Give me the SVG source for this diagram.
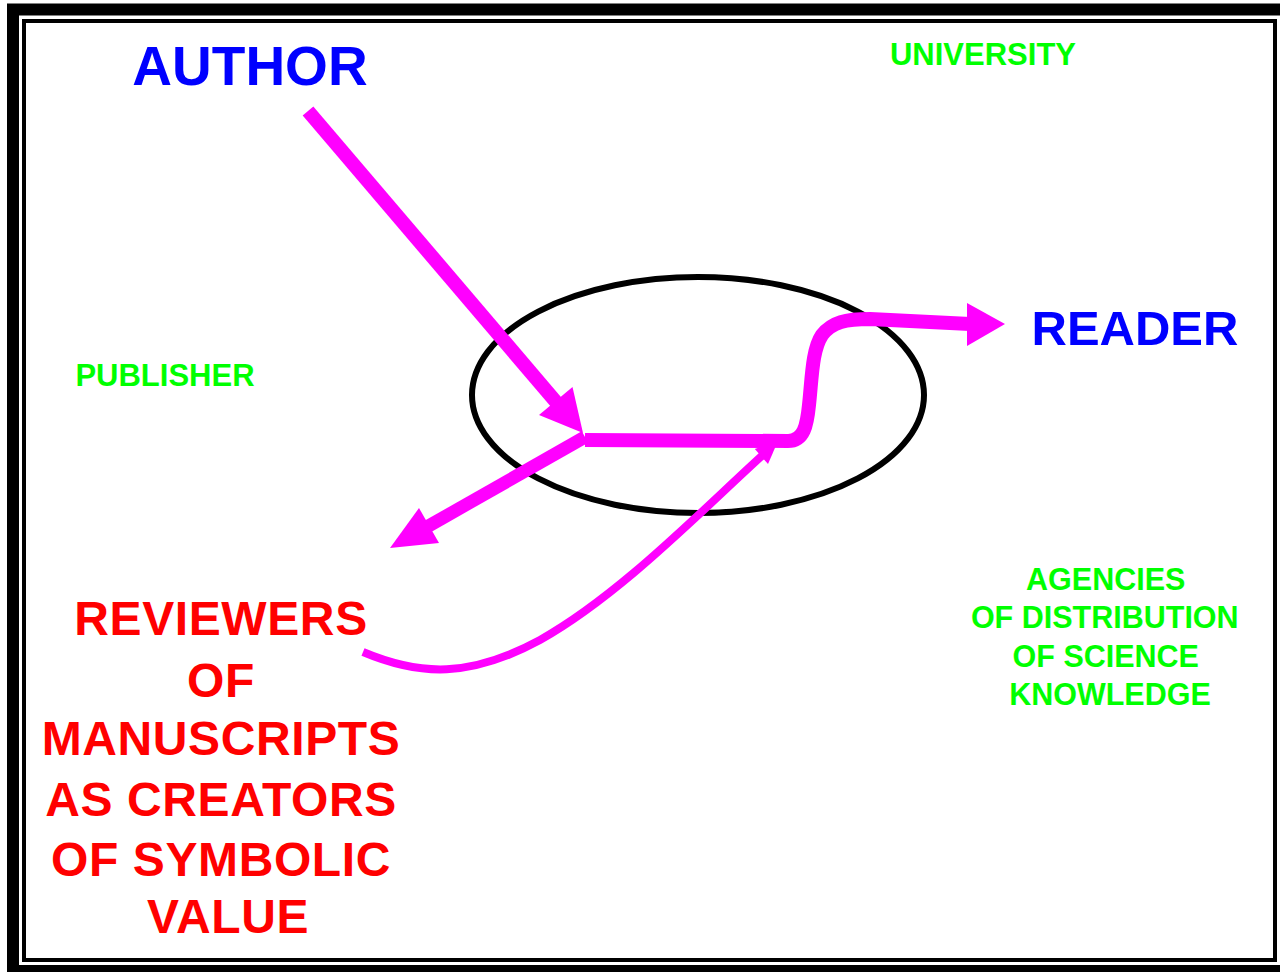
<svg xmlns="http://www.w3.org/2000/svg" width="1280" height="972" viewBox="0 0 1280 972">
<style>
.t{font-family:"Liberation Sans",Arial,sans-serif;font-weight:bold;text-anchor:middle}
.blue{fill:#0000FF}
.green{fill:#00FF00}
.red{fill:#FF0000}
.shaft{fill:none;stroke:#FF00FF;stroke-linecap:butt;stroke-linejoin:round}
.head{fill:#FF00FF}
</style>
<rect x="0" y="0" width="1280" height="972" fill="#FFFFFF"/>
<g id="frame">
<rect x="13" y="9.5" width="1290" height="961.5" fill="none" stroke="#000" stroke-width="12"/>
<rect x="24" y="21" width="1251" height="939" fill="none" stroke="#000" stroke-width="4"/>
</g>
<g id="journal">
<ellipse cx="698" cy="395" rx="226" ry="118" fill="none" stroke="#000" stroke-width="6"/>
</g>
<g id="connectors">
<path class="shaft" stroke-width="14" d="M308,111 L562,409"/>
<polygon class="head" points="583,433 539,415 572.5,387"/>
<path class="shaft" stroke-width="14" d="M585,440 L788,441 C804,441 807,425 809,405 C812,378 812,350 822,335 C832,322 846,319 870,319 L970,324"/>
<polygon class="head" points="1005,324 967,303 967,346"/>
<path class="shaft" stroke-width="13" d="M585,437 L425,528"/>
<polygon class="head" points="390,548 439,543 419,508"/>
<path class="shaft" stroke-width="8" d="M363,652 C420,676 470,678 540,640 C620,595 700,512 765,453"/>
<polygon class="head" points="778,441 768,464 754.8,449"/>
</g>
<g id="author"><text class="t blue" x="250" y="85" font-size="55">AUTHOR</text></g>
<g id="university"><text class="t green" x="983" y="65" font-size="31">UNIVERSITY</text></g>
<g id="publisher"><text class="t green" x="165" y="386" font-size="31">PUBLISHER</text></g>
<g id="reader"><text class="t blue" x="1135" y="345" font-size="49">READER</text></g>
<g id="reviewers">
<text class="t red" font-size="48" letter-spacing="0.6">
<tspan x="228" y="635">REVIEWERS</tspan>
<tspan x="228" y="697">OF</tspan>
<tspan x="228" y="755">MANUSCRIPTS</tspan>
<tspan x="228" y="816">AS CREATORS</tspan>
<tspan x="228" y="876">OF SYMBOLIC</tspan>
<tspan x="228" y="933">VALUE</tspan>
</text>
</g>
<g id="agencies">
<text class="t green" font-size="30.5">
<tspan x="1110" y="590">AGENCIES</tspan>
<tspan x="1109" y="628">OF DISTRIBUTION</tspan>
<tspan x="1110" y="667">OF SCIENCE</tspan>
<tspan x="1110" y="705">KNOWLEDGE</tspan>
</text>
</g>
</svg>
